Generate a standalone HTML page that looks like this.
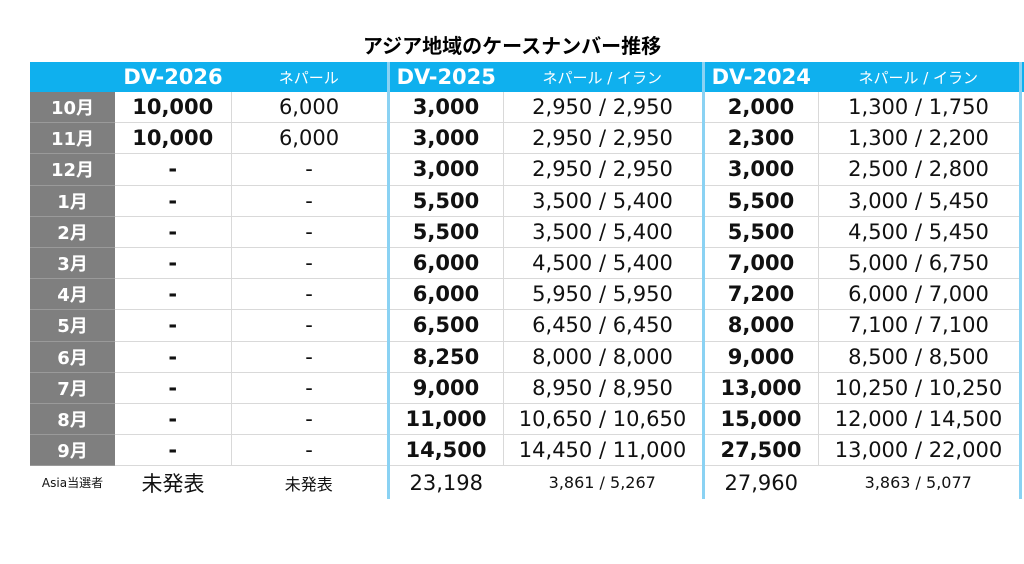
<!DOCTYPE html>
<html><head><meta charset="utf-8"><style>
body{margin:0;width:1024px;height:564px;background:#fff;overflow:hidden;position:relative;font-family:"Liberation Sans","DejaVu Sans","Noto Sans CJK JP",sans-serif;}
.t{position:absolute;top:30px;left:0;width:1024px;text-align:center;font:bold 20px "Liberation Sans","Noto Sans CJK JP",sans-serif;color:#000;}
.hdr{position:absolute;left:30px;top:62px;width:994px;height:30px;background:#0fb0ee;}
table{position:absolute;left:30px;top:62px;border-collapse:collapse;table-layout:fixed;}
td{padding:0;text-align:center;height:30.2px;border-bottom:1px solid #d9d9d9;border-right:1px solid #d9d9d9;font-size:21px;color:#111;white-space:nowrap;font-family:"DejaVu Sans","Noto Sans CJK JP",sans-serif;}
tr.h td{height:30px;background:#0fb0ee;color:#fff;border:none;font-size:15px;}
tr.h td.b{font-size:21px;font-weight:bold;}
td.m{background:#7f7f7f;color:#fff;font-weight:bold;font-size:18px;border-bottom:1px solid #9a9a9a;border-right:none;}
.b{font-weight:bold;}
.L{border-left:3px solid #8ad2f3 !important;}
.R{border-right:3px solid #8ad2f3 !important;}
tr.last td{border-bottom:none;height:33px;}
tr.last td.n{border-right:none;}
</style></head><body>
<div class="t">アジア地域のケースナンバー推移</div>
<div class="hdr"></div>
<table>
<colgroup><col style="width:85px"><col style="width:116px"><col style="width:157px"><col style="width:115px"><col style="width:200px"><col style="width:115px"><col style="width:202px"></colgroup>
<tr class="h"><td></td><td class="b">DV-2026</td><td>ネパール</td><td class="b L">DV-2025</td><td>ネパール / イラン</td><td class="b L">DV-2024</td><td class="R">ネパール / イラン</td></tr>
<tr><td class="m">10月</td><td class="b">10,000</td><td>6,000</td><td class="b L">3,000</td><td>2,950 / 2,950</td><td class="b L">2,000</td><td class="R">1,300 / 1,750</td></tr>
<tr><td class="m">11月</td><td class="b">10,000</td><td>6,000</td><td class="b L">3,000</td><td>2,950 / 2,950</td><td class="b L">2,300</td><td class="R">1,300 / 2,200</td></tr>
<tr><td class="m">12月</td><td class="b">-</td><td>-</td><td class="b L">3,000</td><td>2,950 / 2,950</td><td class="b L">3,000</td><td class="R">2,500 / 2,800</td></tr>
<tr><td class="m">1月</td><td class="b">-</td><td>-</td><td class="b L">5,500</td><td>3,500 / 5,400</td><td class="b L">5,500</td><td class="R">3,000 / 5,450</td></tr>
<tr><td class="m">2月</td><td class="b">-</td><td>-</td><td class="b L">5,500</td><td>3,500 / 5,400</td><td class="b L">5,500</td><td class="R">4,500 / 5,450</td></tr>
<tr><td class="m">3月</td><td class="b">-</td><td>-</td><td class="b L">6,000</td><td>4,500 / 5,400</td><td class="b L">7,000</td><td class="R">5,000 / 6,750</td></tr>
<tr><td class="m">4月</td><td class="b">-</td><td>-</td><td class="b L">6,000</td><td>5,950 / 5,950</td><td class="b L">7,200</td><td class="R">6,000 / 7,000</td></tr>
<tr><td class="m">5月</td><td class="b">-</td><td>-</td><td class="b L">6,500</td><td>6,450 / 6,450</td><td class="b L">8,000</td><td class="R">7,100 / 7,100</td></tr>
<tr><td class="m">6月</td><td class="b">-</td><td>-</td><td class="b L">8,250</td><td>8,000 / 8,000</td><td class="b L">9,000</td><td class="R">8,500 / 8,500</td></tr>
<tr><td class="m">7月</td><td class="b">-</td><td>-</td><td class="b L">9,000</td><td>8,950 / 8,950</td><td class="b L">13,000</td><td class="R">10,250 / 10,250</td></tr>
<tr><td class="m">8月</td><td class="b">-</td><td>-</td><td class="b L">11,000</td><td>10,650 / 10,650</td><td class="b L">15,000</td><td class="R">12,000 / 14,500</td></tr>
<tr><td class="m">9月</td><td class="b">-</td><td>-</td><td class="b L">14,500</td><td>14,450 / 11,000</td><td class="b L">27,500</td><td class="R">13,000 / 22,000</td></tr>
<tr class="last"><td class="n" style="font-size:12px">Asia当選者</td><td class="n">未発表</td><td class="n" style="font-size:16px">未発表</td><td class="L n">23,198</td><td class="n" style="font-size:16px">3,861 / 5,267</td><td class="L n">27,960</td><td class="R" style="font-size:16px">3,863 / 5,077</td></tr>
</table>
</body></html>
